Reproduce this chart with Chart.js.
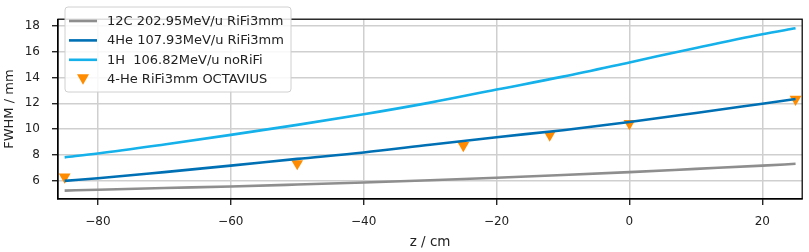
<!DOCTYPE html>
<html>
<head>
<meta charset="utf-8">
<script src="https://cdn.jsdelivr.net/npm/chart.js@4"></script>
<style>
  html, body { margin: 0; padding: 0; background: #fff; }
  #wrap { width: 809px; height: 252px; position: relative; }
</style>
</head>
<body>
<div id="wrap"><canvas id="chart"></canvas></div>
<script>
const zPositions = [-85, -80, -70, -60, -50, -40, -30, -20, -10, 0, 10, 20, 25];
const carbonFwhm = [5.25, 5.32, 5.45, 5.57, 5.72, 5.88, 6.05, 6.24, 6.45, 6.68, 6.93, 7.18, 7.32];
const heliumFwhm = [6.0, 6.2, 6.68, 7.18, 7.7, 8.2, 8.8, 9.38, 9.92, 10.55, 11.25, 11.97, 12.33];
const protonFwhm = [7.82, 8.12, 8.82, 9.56, 10.33, 11.15, 12.05, 13.06, 14.06, 15.16, 16.28, 17.34, 17.8];
const octaviusZ = [-85, -50, -25, -12, 0, 25];
const octaviusFwhm = [6.3, 7.34, 8.74, 9.55, 10.45, 12.31];

const xTicks = [-80, -60, -40, -20, 0, 20];
const yTicks = [6, 8, 10, 12, 14, 16, 18];

const labels = [
  "12C 202.95MeV/u RiFi3mm",
  "4He 107.93MeV/u RiFi3mm",
  "1H  106.82MeV/u noRiFi",
  "4-He RiFi3mm OCTAVIUS",
];

const colors = {
  carbon: "#8e8e8e",
  helium: "#0070b5",
  proton: "#14b1ea",
  octavius: "#ff8c00",
};

const FONT = "'DejaVu Sans', sans-serif";

function toPoints(xs, ys) {
  return xs.map((x, i) => ({ x, y: ys[i] }));
}

function lineSet(label, ys, color) {
  return {
    label,
    data: toPoints(zPositions, ys),
    borderColor: color,
    backgroundColor: color,
    borderWidth: 2.6,
    pointRadius: 0,
    cubicInterpolationMode: "monotone",
    fill: false,
  };
}

const framePlugin = {
  id: "frame",
  afterDraw(chart) {
    const { ctx, chartArea: a } = chart;
    ctx.save();
    ctx.strokeStyle = "#000";
    ctx.lineWidth = 1.25;
    ctx.strokeRect(a.left, a.top, a.right - a.left, a.bottom - a.top);
    ctx.restore();
  },
};

const legendPlugin = {
  id: "insideLegend",
  afterDraw(chart) {
    const { ctx } = chart;
    const bx = 65, by = 7, bw = 226, bh = 85;
    ctx.save();
    ctx.beginPath();
    ctx.roundRect(bx, by, bw, bh, 3);
    ctx.fillStyle = "rgba(255,255,255,0.85)";
    ctx.fill();
    ctx.strokeStyle = "#d0d0d0";
    ctx.lineWidth = 1;
    ctx.stroke();

    ctx.font = "13px " + FONT;
    ctx.textBaseline = "middle";
    chart.data.datasets.forEach((ds, i) => {
      const y = 21 + i * 19.4;
      if (ds.showLine === false) {
        ctx.fillStyle = ds.backgroundColor;
        ctx.beginPath();
        ctx.moveTo(77, y - 5);
        ctx.lineTo(89, y - 5);
        ctx.lineTo(83, y + 5.5);
        ctx.closePath();
        ctx.fill();
      } else {
        ctx.strokeStyle = ds.borderColor;
        ctx.lineWidth = 2.6;
        ctx.beginPath();
        ctx.moveTo(69, y);
        ctx.lineTo(97, y);
        ctx.stroke();
      }
      ctx.fillStyle = "#222";
      ctx.fillText(ds.label, 107, y + 0.5);
    });
    ctx.restore();
  },
};

const minus = (v) => String(v).replace("-", "\u2212");

new Chart(document.getElementById("chart"), {
  type: "line",
  data: {
    datasets: [
      lineSet(labels[0], carbonFwhm, colors.carbon),
      lineSet(labels[1], heliumFwhm, colors.helium),
      lineSet(labels[2], protonFwhm, colors.proton),
      {
        label: labels[3],
        data: toPoints(octaviusZ, octaviusFwhm),
        showLine: false,
        pointStyle: "triangle",
        rotation: 180,
        pointRadius: 6.8,
        pointBorderWidth: 0,
        borderColor: colors.octavius,
        backgroundColor: colors.octavius,
      },
    ],
  },
  options: {
    responsive: true,
    maintainAspectRatio: false,
    animation: false,
    layout: { padding: { top: 2, right: 3, left: 0, bottom: 0 } },
    plugins: { legend: { display: false }, tooltip: { enabled: false } },
    scales: {
      x: {
        type: "linear",
        min: -86,
        max: 26,
        afterBuildTicks: (axis) => { axis.ticks = xTicks.map((v) => ({ value: v })); },
        afterFit: (axis) => { axis.height = 53; },
        grid: { color: "#cfcfcf", lineWidth: 1.5, tickColor: "#000", tickLength: 6, tickWidth: 1.2 },
        border: { color: "#000", width: 1.25 },
        ticks: { color: "#222", font: { family: FONT, size: 12 }, padding: 10, maxRotation: 0, callback: (v) => minus(v) },
        title: { display: true, text: "z / cm", color: "#222", font: { family: FONT, size: 13.5 }, padding: { top: 3, bottom: 1 } },
      },
      y: {
        min: 4.6,
        max: 18.5,
        afterBuildTicks: (axis) => { axis.ticks = yTicks.map((v) => ({ value: v })); },
        afterFit: (axis) => { axis.width = 58; },
        grid: { color: "#cfcfcf", lineWidth: 1.5, tickColor: "#000", tickLength: 6, tickWidth: 1.2 },
        border: { color: "#000", width: 1.25 },
        ticks: { color: "#222", font: { family: FONT, size: 12 }, padding: 12 },
        title: { display: true, text: "FWHM / mm", color: "#222", font: { family: FONT, size: 13 }, padding: { top: 2, bottom: 2 } },
      },
    },
  },
  plugins: [framePlugin, legendPlugin],
});
</script>
</body>
</html>
